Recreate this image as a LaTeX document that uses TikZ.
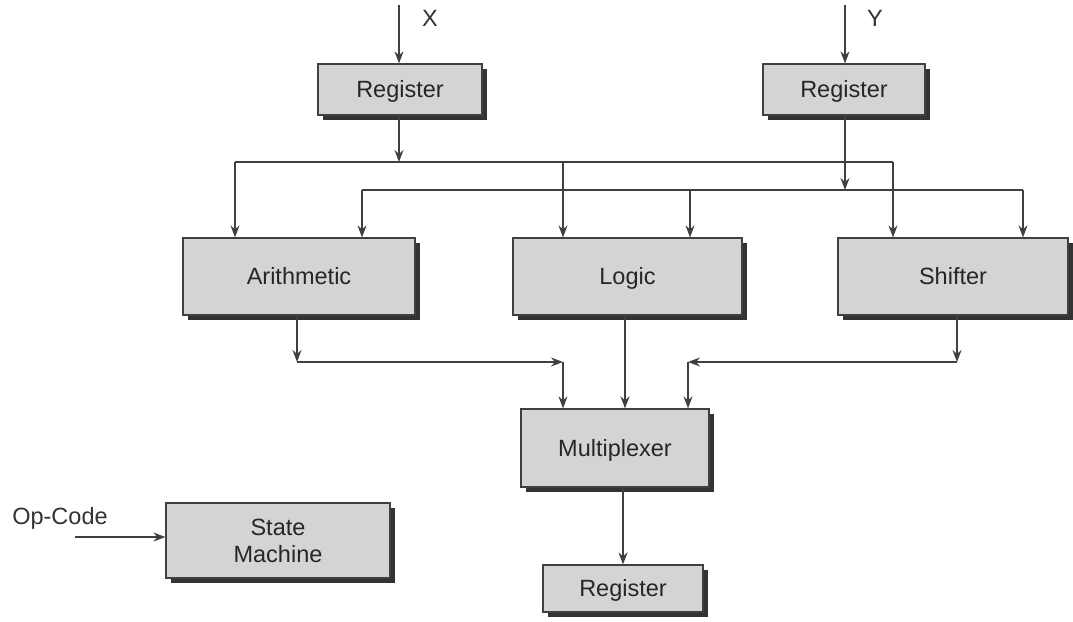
\documentclass[tikz,border=0pt]{standalone}
\usepackage{fontspec}
\setmainfont{Liberation Sans}
\usetikzlibrary{arrows.meta,shadows}
\definecolor{boxfill}{gray}{0.83}
\definecolor{linec}{gray}{0.25}
\newcommand\captext[1]{\smash{#1}\vphantom{A}}
\begin{document}
\begin{tikzpicture}[x=1pt,y=-1pt,
  blk/.style={draw=linec,line width=1.2pt,fill=boxfill,inner sep=0pt,align=center,
    font=\fontsize{23.5}{27}\selectfont,text=black!85,
    drop shadow={shadow xshift=5pt,shadow yshift=-5pt,fill=black!80,opacity=1}},
  wire/.style={draw=linec,line width=1.3pt},
  arr/.style={wire,-{Stealth[length=12pt,width=9pt]}},
  lbl/.style={font=\fontsize{23.5}{27}\selectfont,text=black!80,inner sep=0pt}]
\useasboundingbox (0,0) rectangle (1073,621);
% blocks
\node[blk,minimum width=164pt,minimum height=51pt] (reg1) at (400,89.5) {\captext{Register}};
\node[blk,minimum width=162pt,minimum height=51pt] (reg2) at (844,89.5) {\captext{Register}};
\node[blk,minimum width=232pt,minimum height=77pt] (arith) at (299,276.5) {\captext{Arithmetic}};
\node[blk,minimum width=229pt,minimum height=77pt] (logic) at (627.5,276.5) {\captext{Logic}};
\node[blk,minimum width=230pt,minimum height=77pt] (shift) at (953,276.5) {\captext{Shifter}};
\node[blk,minimum width=188pt,minimum height=78pt] (mux) at (615,448) {\captext{Multiplexer}};
\node[blk,minimum width=160pt,minimum height=47pt] (reg3) at (623,588.5) {\captext{Register}};
\node[blk,minimum width=224pt,minimum height=75pt] (sm) at (278,540.5) {State\\Machine};
% labels
\node[lbl] (xl) at (430,18) {X};
\node[lbl] (yl) at (875,18) {Y};
\node[lbl] (op) at (60,518) {Op-Code};
% coordinates
\coordinate (xin) at (399,5);
\coordinate (yin) at (845,5);
\coordinate (opin) at (75,537);
\coordinate (b1) at (399,162);
\coordinate (b1L) at (235,162);
\coordinate (b1M) at (563,162);
\coordinate (b1R) at (893,162);
\coordinate (b2) at (845,190);
\coordinate (b2L) at (362,190);
\coordinate (b2M) at (690,190);
\coordinate (b2R) at (1023,190);
\coordinate (aout) at (297,362);
\coordinate (ain) at (563,362);
\coordinate (sout) at (957,362);
\coordinate (sin) at (688,362);
% inputs
\draw[arr] (xin) -- (xin |- reg1.north);
\draw[arr] (yin) -- (yin |- reg2.north);
\draw[arr] (opin) -- (opin -| sm.west);
% register outputs to buses
\draw[arr] (b1 |- reg1.south) -- (b1);
\draw[arr] (b2 |- reg2.south) -- (b2);
\draw[wire] (b1L) -- (b1R);
\draw[wire] (b2L) -- (b2R);
\draw[arr] (b1L) -- (b1L |- arith.north);
\draw[arr] (b2L) -- (b2L |- arith.north);
\draw[arr] (b1M) -- (b1M |- logic.north);
\draw[arr] (b2M) -- (b2M |- logic.north);
\draw[arr] (b1R) -- (b1R |- shift.north);
\draw[arr] (b2R) -- (b2R |- shift.north);
% unit outputs to multiplexer
\draw[arr] (aout |- arith.south) -- (aout);
\draw[arr] (aout) -- (ain);
\draw[arr] (ain) -- (ain |- mux.north);
\draw[arr] (logic.south -| 625,0) -- (mux.north -| 625,0);
\draw[arr] (sout |- shift.south) -- (sout);
\draw[arr] (sout) -- (sin);
\draw[arr] (sin) -- (sin |- mux.north);
% multiplexer to register
\draw[arr] (mux.south -| reg3.north) -- (reg3.north);
\end{tikzpicture}
\end{document}
